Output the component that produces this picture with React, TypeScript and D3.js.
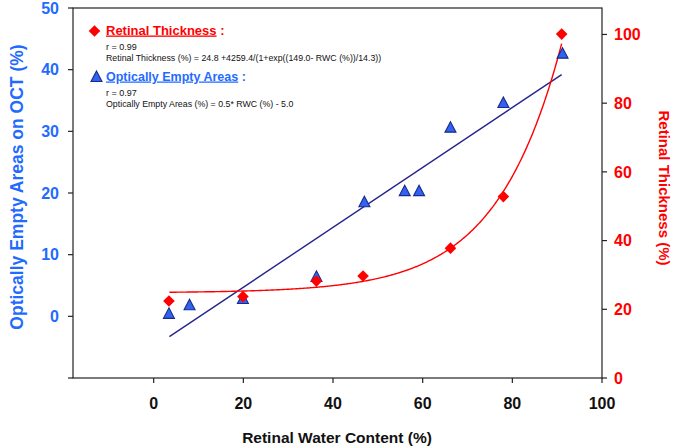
import React from "react";
import * as d3 from "d3";

// ---- data ----
const thicknessX = [3.4, 19.9, 36.3, 46.7, 66.2, 78.0, 91.0];
const thicknessY = [22.4, 23.7, 28.2, 29.7, 37.8, 52.8, 100.1];
const emptyX = [3.4, 8.0, 19.9, 36.3, 47.0, 56.0, 59.2, 66.2, 78.0, 91.2];
const emptyY = [0.4, 1.8, 2.8, 6.4, 18.5, 20.3, 20.3, 30.6, 34.6, 42.6];
// linear fit drawn end points
const emptyFitX = [3.5, 91.0];
const emptyFitY = [-3.3, 39.2];
// sigmoid fit parameters from the legend
const fitA = 24.8, fitB = 4259.4, fitC = 149.0, fitD = 14.3;
const fitRange = [3.5, 91.0];

const xTicks = [0, 20, 40, 60, 80, 100];
const yLeftTicks = [0, 10, 20, 30, 40, 50];
const yRightTicks = [0, 20, 40, 60, 80, 100];

const BLUE = "#1f6bff";
const RED = "#ff0000";
const NAVY = "#24238f";
const FONT = "'Liberation Sans', Arial, Helvetica, sans-serif";

export default function App() {
  const W = 675, H = 448;
  const left = 73, right = 602, top = 8, bottom = 378;
  const x = d3.scaleLinear().domain([-18, 100]).range([left, right]);
  const yL = d3.scaleLinear().domain([-10, 50]).range([bottom, top]);
  const yR = d3.scaleLinear().domain([0, 107.7]).range([bottom, top]);

  const curvePts: [number, number][] = [];
  for (let v = fitRange[0]; v <= fitRange[1] + 1e-9; v += 0.25) {
    curvePts.push([v, fitA + fitB / (1 + Math.exp((fitC - v) / fitD))]);
  }
  const curve = d3.line<[number, number]>().x(d => x(d[0])).y(d => yR(d[1]))(curvePts) || "";
  const fitLine = d3.line<number>().x((_, i) => x(emptyFitX[i])).y(d => yL(d))(emptyFitY) || "";

  const diamond = (cx: number, cy: number, r: number) =>
    `M${cx},${cy - r}L${cx + r},${cy}L${cx},${cy + r}L${cx - r},${cy}Z`;
  const tri = (cx: number, cy: number, s: number) =>
    `M${cx},${cy - s * 0.6}L${cx + s * 0.55},${cy + s * 0.45}L${cx - s * 0.55},${cy + s * 0.45}Z`;

  const axisCol = "#222";
  const tickFs = 16;
  return (
    <svg width={W} height={H} style={{ position: "absolute", left: 0, top: 0, background: "#fff" }} fontFamily={FONT}>
      {/* frame */}
      <rect x={left} y={top} width={right - left} height={bottom - top} fill="none" stroke={axisCol} strokeWidth={1.2} />
      {/* left axis ticks */}
      {[-10, ...yLeftTicks].map(t => (
        <line key={"lt" + t} x1={left - 5} x2={left} y1={yL(t)} y2={yL(t)} stroke={axisCol} strokeWidth={1.2} />
      ))}
      {yLeftTicks.map(t => (
        <text key={"ll" + t} x={left - 14} y={yL(t)} dy="0.36em" textAnchor="end" fill={BLUE} fontWeight="bold" fontSize={tickFs}>{t}</text>
      ))}
      {/* right axis */}
      {yRightTicks.map(t => (
        <g key={"r" + t}>
          <line x1={right} x2={right + 5} y1={yR(t)} y2={yR(t)} stroke={axisCol} strokeWidth={1.2} />
          <text x={right + 12} y={yR(t)} dy="0.36em" textAnchor="start" fill={RED} fontWeight="bold" fontSize={tickFs}>{t}</text>
        </g>
      ))}
      {/* x axis */}
      {xTicks.map(t => (
        <g key={"x" + t}>
          <line x1={x(t)} x2={x(t)} y1={bottom} y2={bottom + 5} stroke={axisCol} strokeWidth={1.2} />
          <text x={x(t)} y={bottom + 31} textAnchor="middle" fill="#111" fontWeight="bold" fontSize={tickFs}>{t}</text>
        </g>
      ))}
      {/* axis titles */}
      <text x={337} y={443} textAnchor="middle" fontWeight="bold" fontSize={15.5} fill="#111">Retinal Water Content (%)</text>
      <text transform={`translate(23,187) rotate(-90)`} textAnchor="middle" fontWeight="bold" fontSize={17.5} fill={BLUE}>Optically Empty Areas on OCT (%)</text>
      <text transform={`translate(659,188) rotate(90)`} textAnchor="middle" fontWeight="bold" fontSize={15} fill={RED}>Retinal Thickness (%)</text>

      {/* fits */}
      <path d={fitLine} fill="none" stroke={NAVY} strokeWidth={1.4} />
      <path d={curve} fill="none" stroke={RED} strokeWidth={1.4} />

      {/* markers */}
      {emptyY.map((v, i) => (
        <path key={"t" + i} d={tri(x(emptyX[i]), yL(v), 10)} fill="#2f63f0" stroke="#1a2a8a" strokeWidth={1.1} />
      ))}
      {thicknessY.map((v, i) => (
        <path key={"d" + i} d={diamond(x(thicknessX[i]), yR(v), 5.8)} fill={RED} />
      ))}

      {/* legend */}
      <path d={diamond(94.5, 31, 5.8)} fill={RED} />
      <text x={106} y={34.5} fontSize={13} fontWeight="bold" fill={RED}>
        <tspan textDecoration="underline">Retinal Thickness</tspan>
        <tspan> :</tspan>
      </text>
      <text x={106} y={50} fontSize={9} fill="#111">r = 0.99</text>
      <text x={106} y={60.5} fontSize={8.8} fill="#111">Retinal Thickness (%) = 24.8 +4259.4/(1+exp((149.0- RWC (%))/14.3))</text>
      <path d={tri(96.5, 77, 10)} fill="#2f63f0" stroke="#1a2a8a" strokeWidth={1.1} />
      <text x={106} y={80.5} fontSize={12.5} fontWeight="bold" fill={BLUE}>
        <tspan textDecoration="underline">Optically Empty Areas</tspan>
        <tspan> :</tspan>
      </text>
      <text x={106} y={96} fontSize={9} fill="#111">r = 0.97</text>
      <text x={106} y={107} fontSize={8.8} fill="#111">Optically Empty Areas (%) = 0.5* RWC (%) - 5.0</text>
    </svg>
  );
}
